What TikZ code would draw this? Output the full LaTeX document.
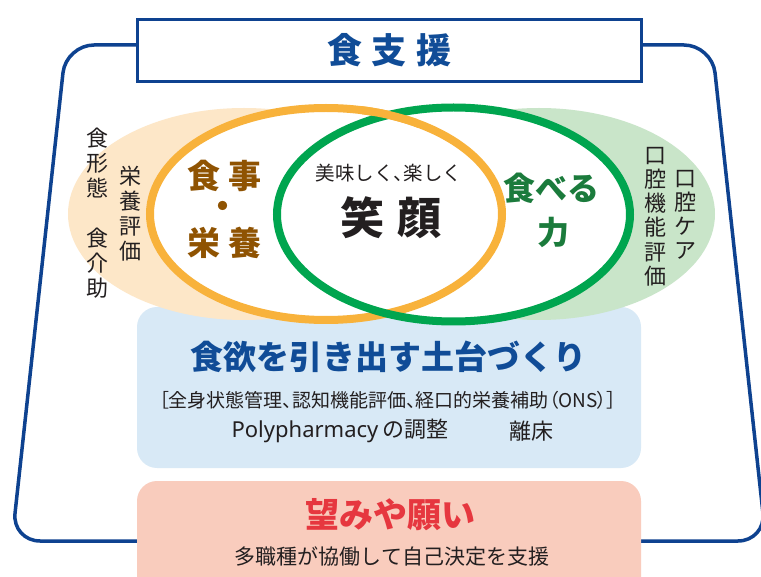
\documentclass[tikz,border=0pt]{standalone}
\usepackage{fontspec}
\newfontfamily\jp{Noto Sans CJK JP}
\newfontfamily\jpp[RawFeature=+palt]{Noto Sans CJK JP}
\newfontfamily\latn{Noto Sans}
\definecolor{frameblue}{HTML}{0E4290}
\definecolor{textblue}{HTML}{104C97}
\definecolor{beige}{HTML}{FDE7C8}
\definecolor{lightgreen}{HTML}{C9E5C9}
\definecolor{ringorange}{HTML}{F8B23B}
\definecolor{ringgreen}{HTML}{00A54F}
\definecolor{browntext}{HTML}{8F5302}
\definecolor{darkgreen}{HTML}{1B7B3C}
\definecolor{lightblue}{HTML}{D8E9F6}
\definecolor{pinkbox}{HTML}{F9CCBD}
\definecolor{redtext}{HTML}{E6373F}
\definecolor{darktext}{HTML}{231F20}
\begin{document}
\begin{tikzpicture}[x=1pt,y=-1pt,
  every node/.style={inner sep=0pt,outer sep=0pt},
  frameline/.style={draw=frameblue,line width=3.5pt},
  ringo/.style={draw=ringorange,line width=8pt},
  ringg/.style={draw=ringgreen,line width=8pt},
  vtext/.style={align=center,text=darktext,font=\jp\fontsize{22}{25}\selectfont},
  vtextr/.style={align=center,text=darktext,font=\jp\fontsize{22}{24.2}\selectfont},
  brownbig/.style={text=browntext,font=\jp\bfseries\fontsize{33}{36}\selectfont},
  greenbig/.style={text=darkgreen,font=\jp\bfseries\fontsize{32}{36}\selectfont},
  plain/.style={text=darktext}
]
\useasboundingbox (0,0) rectangle (761,577);
\fill[white] (0,0) rectangle (761,577);

% outer frame
\draw[frameline,rounded corners=28pt] (137,45) -- (66,45) -- (12,541) -- (137,541);
\draw[frameline,rounded corners=28pt] (642,45) -- (712,45) -- (766,541) -- (641,541);

% base box (light blue)
\fill[lightblue,rounded corners=20pt] (137,307) rectangle (641,468);

% soft ellipses
\fill[beige] (244,214) ellipse [x radius=176pt, y radius=106pt];
\fill[lightgreen] (539,214) ellipse [x radius=176pt, y radius=106pt];

% rings: white interiors, then strokes
\fill[white] (326,214) ellipse [x radius=176pt, y radius=106pt];
\fill[white] (453.5,214.5) ellipse [x radius=176.5pt, y radius=107pt];
\draw[ringo] (326,214) ellipse [x radius=176pt, y radius=106pt];
\draw[ringg] (453.5,214.5) ellipse [x radius=176.5pt, y radius=107pt];
\begin{scope}
  \clip (362,92) rectangle (418,138);
  \draw[ringo] (326,214) ellipse [x radius=176pt, y radius=106pt];
\end{scope}

% wish box (pink)
\fill[pinkbox,rounded corners=20pt] (137,481) rectangle (641,610);

% title box
\node[draw=frameblue,line width=3.5pt,fill=white,minimum width=504pt,minimum height=62pt,
      text=textblue,font=\jp\bfseries\fontsize{35}{40}\selectfont] (title) at (389.5,50.5)
      {食\hspace{10pt}支\hspace{10pt}援};

% left columns
\node[vtext] (lcol1) at (97,213.5) {食\\形\\態\\　\\食\\介\\助};
\node[vtext] (lcol2) at (130,213.5) {栄\\養\\評\\価};

% right columns
\node[vtextr] (rcol1) at (655,216.5) {口\\腔\\機\\能\\評\\価};
\node[vtextr] (rcol2) at (685,215) {口\\腔\\ケ\\ア};

% meal & nutrition
\node[brownbig] (meal1) at (224.5,176) {食\hspace{9pt}事};
\node[brownbig] (mealdot) at (223,210) {・};
\node[brownbig] (meal2) at (224.5,243) {栄\hspace{9pt}養};

% center
\node[plain,font=\jp\fontsize{19.5}{22}\selectfont] (tasty) at (389,173) {美味しく{\jpp 、}楽しく};
\node[plain,font=\jp\bfseries\fontsize{44}{48}\selectfont] (smile) at (391,218) {笑\hspace{14pt}顔};

% eating ability
\node[greenbig] (eat1) at (551,188) {食べる};
\node[greenbig] (eat2) at (553,232) {力};

% base box texts
\node[text=textblue,font=\jp\bfseries\fontsize{33}{36}\selectfont] (basetitle) at (388,357) {食欲を引き出す土台づくり};
\node[plain,font=\jpp\fontsize{19}{22}\selectfont] (baseitems) at (388,400) {［全身状態管理、認知機能評価、経口的栄養補助（ONS）］};
\node[plain,font=\jp\fontsize{22}{25}\selectfont] (poly) at (340,431) {{\latn Polypharmacy}\hspace{4pt}の調整};
\node[plain,font=\jp\fontsize{22}{25}\selectfont] (rise) at (531,431) {離床};

% wish box texts
\node[text=redtext,font=\jp\bfseries\fontsize{34}{38}\selectfont] (wish) at (390,515) {望みや願い};
\node[plain,font=\jp\fontsize{21}{24}\selectfont] (wishsub) at (392,557) {多職種が協働して自己決定を支援};
\end{tikzpicture}
\end{document}
